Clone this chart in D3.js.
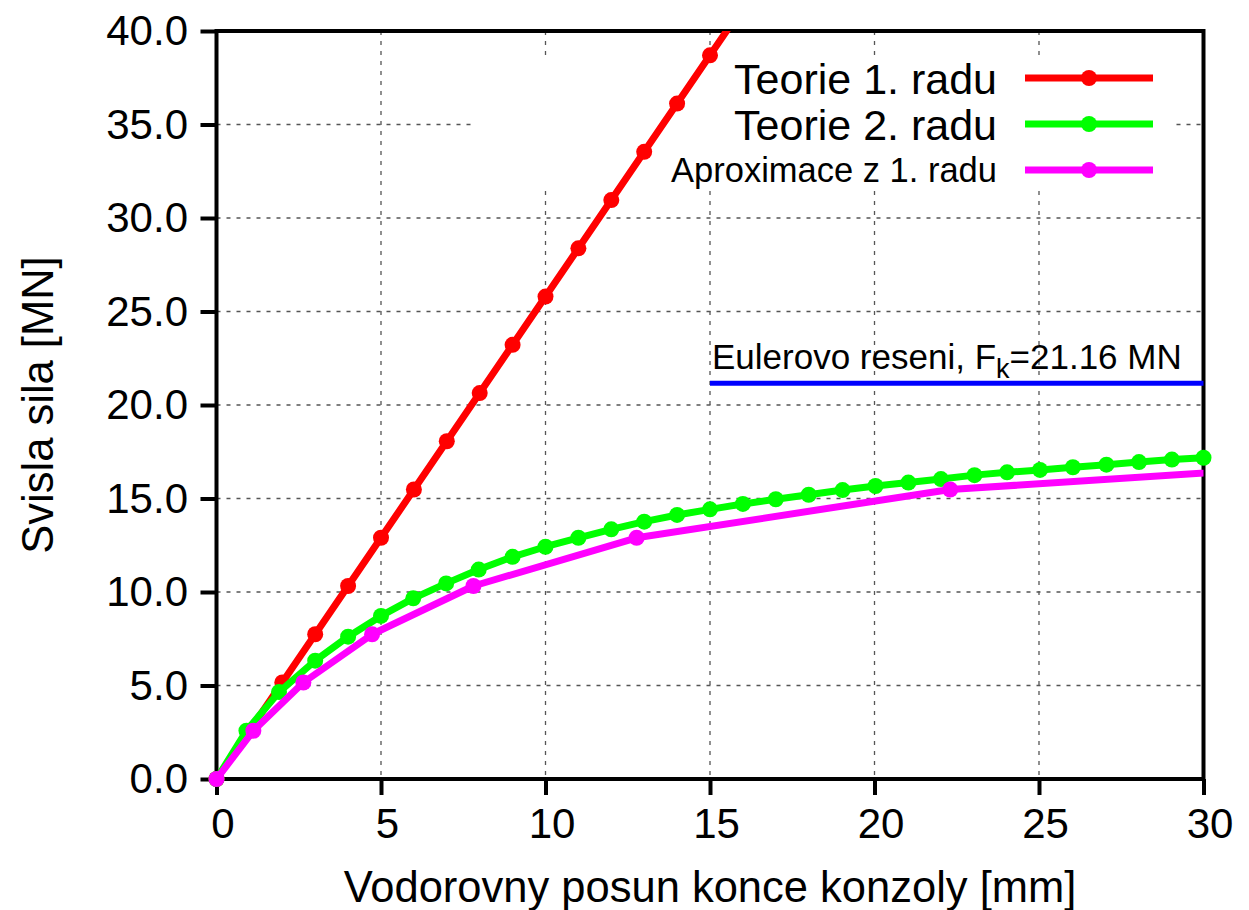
<!DOCTYPE html>
<html>
<head>
<meta charset="utf-8">
<script src="https://cdn.jsdelivr.net/npm/d3@7"></script>
<style>
  html, body { margin: 0; padding: 0; background: #fff; }
  svg { display: block; font-family: "Liberation Sans", Arial, Helvetica, sans-serif; }
</style>
</head>
<body>
<svg id="chart" width="1249" height="910"></svg>
<script>
// ---- data ----
const xTicks = [0, 5, 10, 15, 20, 25, 30];
const yTicks = [0, 5, 10, 15, 20, 25, 30, 35, 40];

const redX = [0, 1, 2, 3, 4, 5, 6, 7, 8, 9, 10, 11, 12, 13, 14, 15, 16];
const redY = [0, 2.58, 5.16, 7.74, 10.32, 12.9, 15.48, 18.06, 20.64, 23.22, 25.8, 28.38, 30.96, 33.54, 36.12, 38.7, 41.28];

const greenX = [0, 0.91, 1.9, 3.0, 4.0, 5.0, 5.98, 6.98, 7.97, 9.0, 10.0, 11.0, 12.0, 13.0, 14.0, 15.0,
                16.0, 17.0, 18.0, 19.03, 20.03, 21.03, 22.02, 23.04, 24.03, 25.03, 26.03, 27.05, 28.04, 29.04, 30.0];
const greenY = [0, 2.58, 4.65, 6.33, 7.61, 8.72, 9.66, 10.46, 11.2, 11.88, 12.42, 12.9, 13.35, 13.76, 14.12, 14.42,
                14.71, 14.96, 15.2, 15.45, 15.67, 15.85, 16.04, 16.25, 16.4, 16.53, 16.67, 16.81, 16.95, 17.08, 17.18];

const magX = [0, 1.12, 2.64, 4.73, 7.81, 12.77, 22.3, 44.9];
const magY = [0, 2.58, 5.16, 7.74, 10.32, 12.9, 15.48, 18.06];

const eulerF = 21.16;
const eulerFrom = 15;
const eulerTo = 30;

const seriesNames = ["Teorie 1. radu", "Teorie 2. radu", "Aproximace z 1. radu"];
const seriesColors = ["#ff0000", "#00ff00", "#ff00ff"];
const xTitle = "Vodorovny posun konce konzoly [mm]";
const yTitle = "Svisla sila [MN]";

// ---- chart ----
const svg = d3.select("#chart");
const L = 216.5, R = 1203.5, T = 31, B = 779;
const x = d3.scaleLinear().domain([0, 30]).range([L, R]);
const y = d3.scaleLinear().domain([0, 40]).range([B, T]);

// grid
const grid = svg.append("g").attr("stroke", "#555").attr("stroke-width", 1.3).attr("stroke-dasharray", "4,6");
xTicks.filter(d => d > 0 && d < 30).forEach(d => {
  grid.append("line").attr("x1", x(d)).attr("x2", x(d)).attr("y1", T).attr("y2", B);
});
yTicks.filter(d => d > 0 && d < 40).forEach(d => {
  grid.append("line").attr("x1", L).attr("x2", R).attr("y1", y(d)).attr("y2", y(d));
});

// opaque legend background
svg.append("rect").attr("x", 471).attr("y", 57).attr("width", 704).attr("height", 133).attr("fill", "#fff");

// axes
const ax = svg.append("g").attr("transform", `translate(0,${B})`)
  .call(d3.axisBottom(x).tickValues(xTicks).tickSize(16).tickPadding(13).tickFormat(d3.format("d")));
const ay = svg.append("g").attr("transform", `translate(${L},0)`)
  .call(d3.axisLeft(y).tickValues(yTicks).tickSize(16).tickPadding(12.5).tickFormat(d3.format(".1f")));
[ax, ay].forEach(g => {
  g.select(".domain").remove();
  g.selectAll(".tick line").attr("stroke", "#000").attr("stroke-width", 4);
  g.selectAll(".tick text").attr("fill", "#000").style("font-size", "42px")
    .style("font-family", '"Liberation Sans", Arial, sans-serif');
});
ax.selectAll(".tick text").attr("dx", 6);
ay.selectAll(".tick text").attr("dy", "0.33em");

// border
svg.append("rect").attr("x", L).attr("y", T).attr("width", R - L).attr("height", B - T)
  .attr("fill", "none").attr("stroke", "#000").attr("stroke-width", 4);

// clip
svg.append("clipPath").attr("id", "clip").append("rect")
  .attr("x", L).attr("y", T).attr("width", R - L).attr("height", B - T);

// Euler line
svg.append("line").attr("x1", x(eulerFrom)).attr("x2", x(eulerTo)).attr("y1", y(eulerF)).attr("y2", y(eulerF))
  .attr("stroke", "#0000ff").attr("stroke-width", 5);
const et = svg.append("text").attr("x", 712).attr("y", 368.5).style("font-size", "35px").attr("fill", "#000");
et.append("tspan").text("Eulerovo reseni, F");
et.append("tspan").attr("dy", 9).style("font-size", "27px").text("k");
et.append("tspan").attr("dy", -9).text("=21.16 MN");

// series
const series = [
  { xs: redX, ys: redY },
  { xs: greenX, ys: greenY },
  { xs: magX, ys: magY }
];
const line = d3.line().x(d => x(d[0])).y(d => y(d[1]));
series.forEach((s, i) => {
  const pts = s.xs.map((v, k) => [v, s.ys[k]]);
  const g = svg.append("g");
  g.append("path").datum(pts).attr("d", line).attr("fill", "none")
    .attr("stroke", seriesColors[i]).attr("stroke-width", 7).attr("stroke-linejoin", "round")
    .attr("clip-path", "url(#clip)");
  g.selectAll("circle").data(pts.filter(p => p[0] <= 30.01 && p[1] <= 40)).join("circle")
    .attr("cx", d => x(d[0])).attr("cy", d => y(d[1])).attr("r", 8).attr("fill", seriesColors[i]);
});

// legend
const legY = [78, 124, 170];
const legBase = [93.5, 139.5, 182];
const legSize = [43, 43, 34.5];
seriesNames.forEach((name, i) => {
  svg.append("text").attr("x", 997).attr("y", legBase[i]).attr("text-anchor", "end")
    .style("font-size", legSize[i] + "px").attr("fill", "#000").text(name);
  svg.append("line").attr("x1", 1025).attr("x2", 1153).attr("y1", legY[i]).attr("y2", legY[i])
    .attr("stroke", seriesColors[i]).attr("stroke-width", 7);
  svg.append("circle").attr("cx", 1089).attr("cy", legY[i]).attr("r", 8).attr("fill", seriesColors[i]);
});

// titles
svg.append("text").attr("x", (L + R) / 2).attr("y", 902).attr("text-anchor", "middle")
  .style("font-size", "43.5px").attr("fill", "#000").text(xTitle);
svg.append("text").attr("transform", `translate(53,${(T + B) / 2}) rotate(-90)`).attr("text-anchor", "middle")
  .style("font-size", "43.5px").attr("fill", "#000").text(yTitle);
</script>
</body>
</html>
